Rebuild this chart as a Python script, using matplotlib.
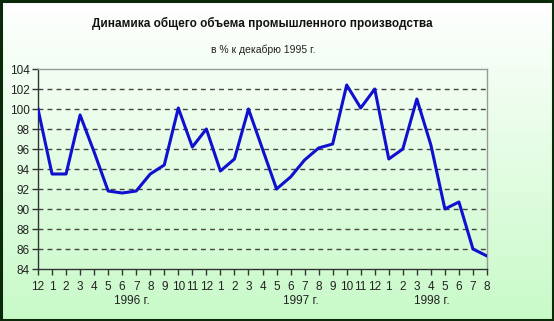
import numpy as np
import matplotlib.pyplot as plt
from matplotlib.colors import LinearSegmentedColormap

months = ["12", "1", "2", "3", "4", "5", "6", "7", "8", "9", "10", "11", "12",
          "1", "2", "3", "4", "5", "6", "7", "8", "9", "10", "11", "12",
          "1", "2", "3", "4", "5", "6", "7", "8"]
values = [100.0, 93.5, 93.5, 99.4, 95.7, 91.8, 91.6, 91.8, 93.5, 94.4, 100.1, 96.2, 98.0,
          93.8, 95.0, 100.0, 96.0, 92.0, 93.2, 94.9, 96.1, 96.5, 102.4, 100.1, 102.0,
          95.0, 96.0, 101.0, 96.4, 90.0, 90.7, 86.0, 85.3]
years = ["1996 г.", "1997 г.", "1998 г."]
year_pos = [6.7, 18.7, 28.1]
yticks = [84, 86, 88, 90, 92, 94, 96, 98, 100, 102, 104]

W, H = 554, 321
fig = plt.figure(figsize=(W / 100, H / 100), dpi=100)
plt.rcParams['font.family'] = ['Liberation Sans', 'DejaVu Sans']

# background gradient
bg = fig.add_axes([0, 0, 1, 1], zorder=-10)
cmap = LinearSegmentedColormap.from_list("g", ["#ffffff", "#c8fac8"])
grad = np.linspace(0, 1, 256).reshape(-1, 1)
bg.imshow(grad, aspect='auto', cmap=cmap, extent=[0, 1, 0, 1], origin='upper')
bg.set_xlim(0, 1); bg.set_ylim(0, 1)
bg.axis('off')
bg.add_patch(plt.Rectangle((0.002, 0.003), 0.996, 0.994, fill=False,
                           edgecolor='#0a2a0a', lw=2.2, transform=bg.transAxes))

x0, x1 = 38 / W, 487 / W
y0, y1 = 1 - 269 / H, 1 - 69 / H
ax = fig.add_axes([x0, y0, x1 - x0, y1 - y0])
ax.patch.set_alpha(0)
x = np.arange(len(values))
ax.plot(x, values, color='#1010d0', lw=2.2, zorder=3)
ax.set_xlim(0, len(values) - 1)
ax.set_ylim(84, 104)
ax.set_yticks(yticks)
ax.set_yticklabels([str(t) for t in yticks], fontsize=8.5, color='#222222')
ax.set_xticks(x)
ax.set_xticklabels(months, fontsize=8.5, color='#222222')
for t in yticks[1:-1]:
    ax.axhline(t, color='#444444', lw=1.0, ls=(0, (3.5, 3)), zorder=1)
ax.spines['top'].set_color('#999999')
ax.spines['right'].set_color('#999999')
ax.spines['left'].set_color('#333333')
ax.spines['bottom'].set_color('#333333')
for s in ax.spines.values():
    s.set_linewidth(1.0)
ax.tick_params(axis='both', direction='out', length=4, width=1, color='#333333', pad=2)
ax.tick_params(axis='x', pad=5)

for yr, p in zip(years, year_pos):
    ax.text(p, -0.16, yr, transform=ax.get_xaxis_transform(), ha='center', va='center',
            fontsize=8.5, color='#222222')

fig.text(262 / W, 1 - 23 / H, "Динамика общего объема промышленного производства",
         ha='center', va='center', fontsize=8.5, fontweight='bold', color='#111111')
fig.text(263 / W, 1 - 50 / H, "в % к декабрю 1995 г.", ha='center', va='center',
         fontsize=7.5, color='#222222')

fig.savefig('out.png', dpi=100)
